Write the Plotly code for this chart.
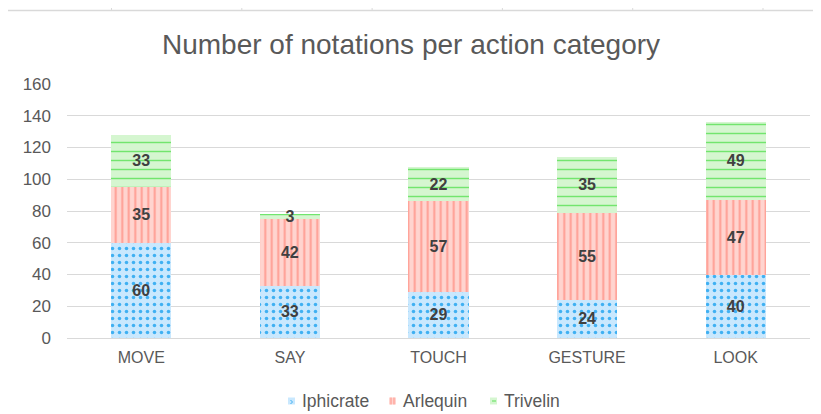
import plotly.graph_objects as go

categories = ["MOVE", "SAY", "TOUCH", "GESTURE", "LOOK"]
iphicrate = [60, 33, 29, 24, 40]
arlequin = [35, 42, 57, 55, 47]
trivelin = [33, 3, 22, 35, 49]
y_ticks = [0, 20, 40, 60, 80, 100, 120, 140, 160]
series_names = ["Iphicrate", "Arlequin", "Trivelin"]

W, H = 821, 414
OFF = 8  # page body margin offset
L, R, T, B = 67 - OFF, 11 + OFF, 84 - OFF, 76 + OFF
PW = W - L - R
PH = H - T - B

FONT = "Liberation Sans, Arial, Helvetica, sans-serif"
TXT = "#595959"
GRID = "#d9d9d9"

styles = [
    ("#c9e8fe", "#3fb0f2", ".", 7, 0.2),
    ("#ffd4cf", "#ff9d93", "|", 6.5, 0.3),
    ("#d5f6d0", "#72e56e", "-", 9, 0.16),
]
values = [iphicrate, arlequin, trivelin]

fig = go.Figure()
for name, vals, (bg, fg, shp, sz, sol) in zip(series_names, values, styles):
    fig.add_trace(go.Bar(
        name=name, x=categories, y=vals, showlegend=False,
        marker=dict(color=bg, line=dict(width=0),
                    pattern=dict(shape=shp, bgcolor=bg, fgcolor=fg, size=sz,
                                 solidity=sol, fillmode="replace")),
        text=vals, texttemplate="%{text}",
        textposition="inside", insidetextanchor="middle",
        constraintext="none", textangle=0,
        textfont=dict(family=FONT, size=16, color="#404040", weight="bold"),
    ))


def px_x(p):
    return (p - OFF - L) / PW


def px_y(p):
    return (H - B - (p - OFF)) / PH


shapes = []
annotations = []
# frame of the surrounding canvas
shapes.append(dict(type="line", xref="paper", yref="paper",
                   x0=px_x(5), x1=px_x(830), y0=px_y(10.5), y1=px_y(10.5),
                   line=dict(color=GRID, width=1.5)))
for i in range(6):
    xp = 111.5 + 130.3 * i
    shapes.append(dict(type="line", xref="paper", yref="paper",
                       x0=px_x(xp), x1=px_x(xp), y0=px_y(4), y1=px_y(10),
                       line=dict(color=GRID, width=1)))

# custom legend
leg_x = [288, 389, 490]
leg_y = 401
for name, xs, (bg, fg, shp, sz, sol) in zip(series_names, leg_x, styles):
    shapes.append(dict(type="rect", xref="paper", yref="paper",
                       x0=px_x(xs), x1=px_x(xs + 7),
                       y0=px_y(leg_y - 3.5), y1=px_y(leg_y + 3.5),
                       fillcolor=bg, line=dict(width=0)))
    if shp == "|":
        for dx in (2, 5):
            shapes.append(dict(type="line", xref="paper", yref="paper",
                               x0=px_x(xs + dx), x1=px_x(xs + dx),
                               y0=px_y(leg_y - 3.5), y1=px_y(leg_y + 3.5),
                               line=dict(color=fg, width=1.2)))
    elif shp == "-":
        shapes.append(dict(type="line", xref="paper", yref="paper",
                           x0=px_x(xs + 2), x1=px_x(xs + 6),
                           y0=px_y(leg_y), y1=px_y(leg_y),
                           line=dict(color=fg, width=1.2)))
    else:
        shapes.append(dict(type="path", xref="paper", yref="paper",
                           path="M {} {} L {} {} L {} {}".format(
                               px_x(xs + 2.5), px_y(leg_y - 1),
                               px_x(xs + 4.5), px_y(leg_y + 1),
                               px_x(xs + 2.5), px_y(leg_y + 3)),
                           line=dict(color=fg, width=1)))
    annotations.append(dict(text=name, xref="paper", yref="paper",
                            x=px_x(xs + 13), y=px_y(leg_y),
                            xanchor="left", yanchor="middle", showarrow=False,
                            borderpad=0,
                            font=dict(family=FONT, size=17.5, color=TXT)))

fig.update_layout(
    width=W, height=H,
    margin=dict(l=L, r=R, t=T, b=B, pad=0, autoexpand=False),
    paper_bgcolor="white", plot_bgcolor="white",
    barmode="stack", bargap=0.596,
    font=dict(family=FONT, color=TXT),
    title=dict(text="Number of notations per action category",
               x=(411 - OFF) / W, xref="container", xanchor="center",
               y=1 - (44 - OFF) / H, yref="container", yanchor="middle",
               font=dict(family=FONT, size=28, color=TXT)),
    showlegend=False,
    shapes=shapes,
    annotations=annotations,
)
fig.update_xaxes(showgrid=False, showline=False, zeroline=False,
                 ticks="", ticklabelstandoff=8,
                 tickfont=dict(family=FONT, size=16, color=TXT))
fig.update_yaxes(range=[0, 160], tickvals=y_ticks, showgrid=True,
                 gridcolor=GRID, gridwidth=1, zeroline=True,
                 zerolinecolor=GRID, zerolinewidth=1, showline=False,
                 ticks="", ticklabelstandoff=15,
                 tickfont=dict(family=FONT, size=17, color=TXT))

fig.write_html("out.html")
